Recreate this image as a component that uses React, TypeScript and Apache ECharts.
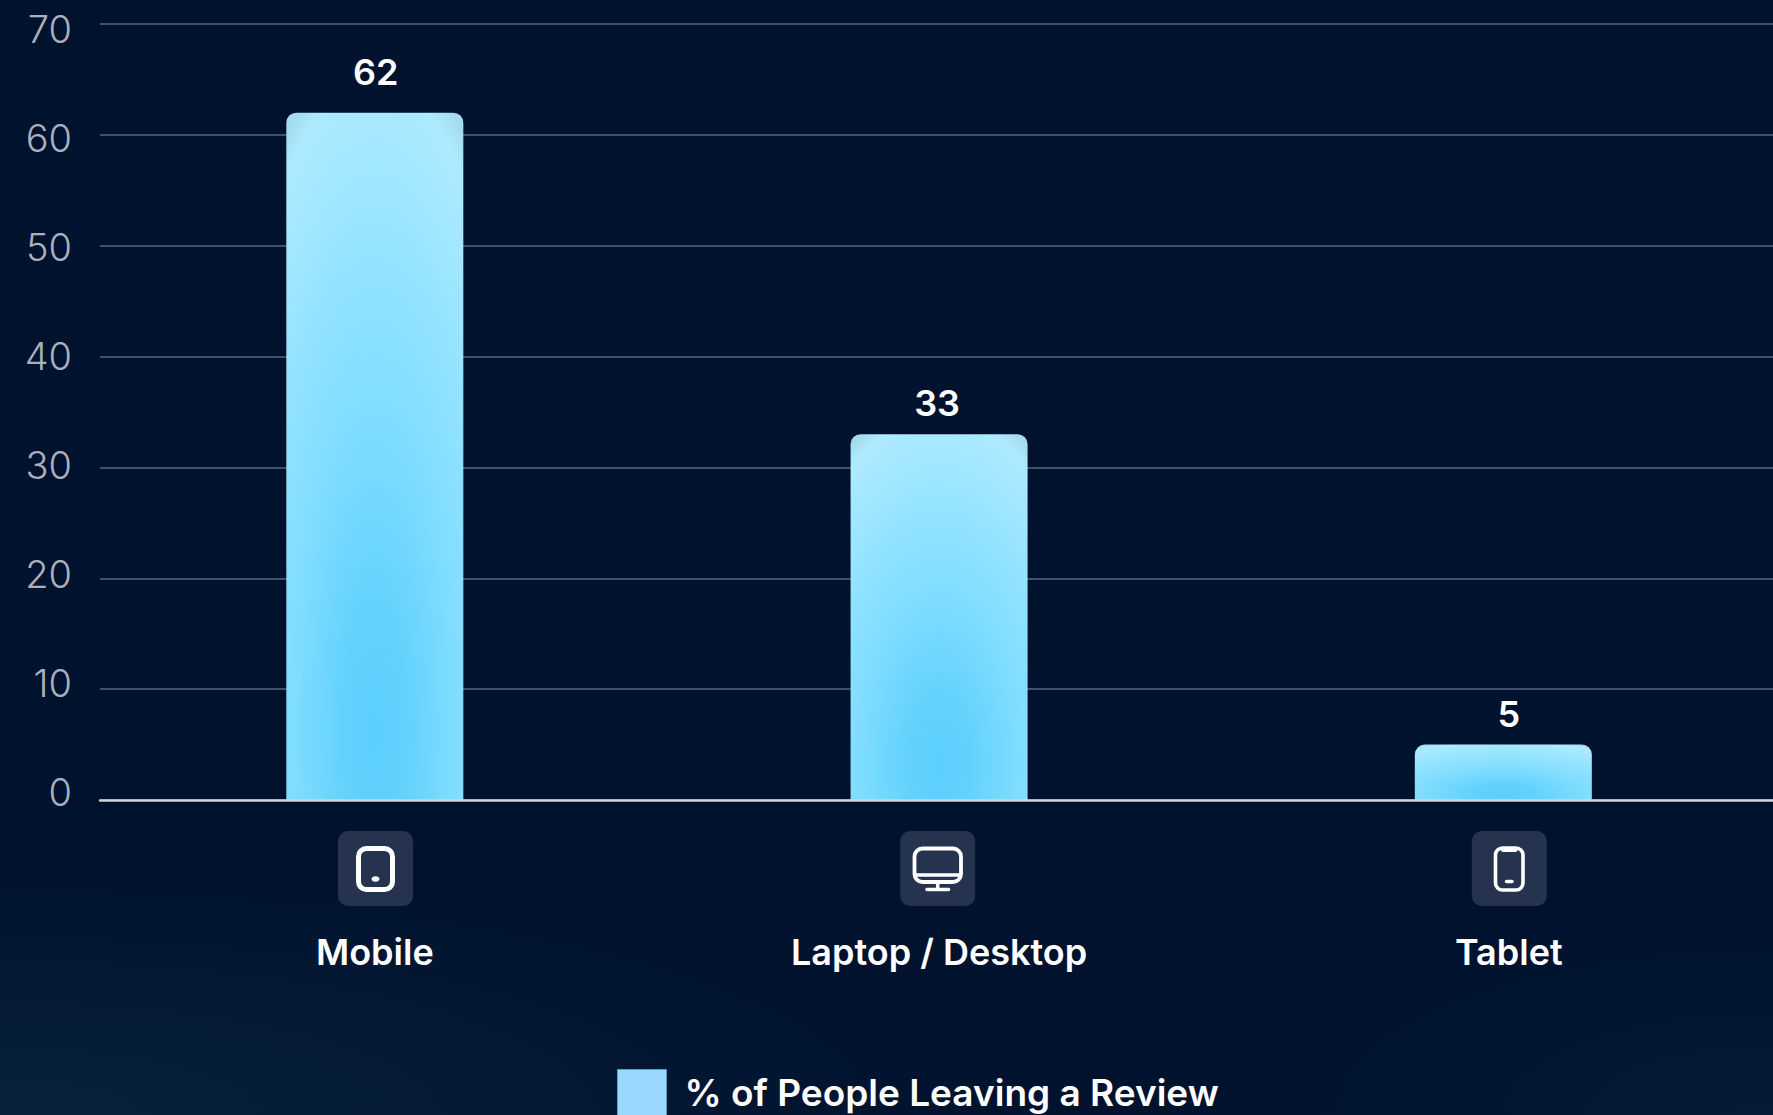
import React, { useEffect, useRef } from "react";
import * as echarts from "echarts";

const categories = ["Mobile", "Laptop / Desktop", "Tablet"];
const reviewShare = [62, 33, 5];
const yTicks = [0, 10, 20, 30, 40, 50, 60, 70];
const seriesName = "% of People Leaving a Review";

const FONT = "Inter, 'Noto Sans', sans-serif";
const WIDTH = 1773;
const HEIGHT = 1115;
const WHITE = "#ffffff";

// Small nudges for the value captions above the bars.
const captionOffsets = [
  [1, -13],
  [-2, -3.5],
  [5.5, -3],
];

const barFill = {
  type: "radial",
  x: 0.5,
  y: 0.9,
  r: 1,
  colorStops: [
    { offset: 0, color: "#5ccffd" },
    { offset: 0.18, color: "#62d2fd" },
    { offset: 0.44, color: "#7edcff" },
    { offset: 0.72, color: "#96e4ff" },
    { offset: 0.95, color: "#aeeaff" },
    { offset: 1.0, color: "#a4dcee" },
  ],
};

const line = (x1: number, y1: number, x2: number, y2: number, width = 4) => ({
  type: "line",
  shape: { x1, y1, x2, y2 },
  style: { stroke: WHITE, lineWidth: width, lineCap: "round" },
  z: 5,
});
const tile = (cx: number) => ({
  type: "rect",
  shape: { x: cx - 37.5, y: 831, width: 75, height: 75, r: 10 },
  style: { fill: "#25334f" },
  z: 4,
});
const outline = (x: number, y: number, width: number, height: number, r: number, lineWidth = 4) => ({
  type: "rect",
  shape: { x, y, width, height, r },
  style: { fill: "none", stroke: WHITE, lineWidth },
  z: 5,
});

// Device pictograms under each category.
const deviceIcons = [
  tile(375.5),
  outline(358.5, 848.5, 34, 41, 8, 5),
  { type: "ellipse", shape: { cx: 375.5, cy: 879, rx: 4, ry: 2.8 }, style: { fill: WHITE }, z: 5 },

  tile(937.7),
  outline(914.5, 848.5, 46.5, 33.5, 8, 3.8),
  line(915, 875, 960, 875, 3.5),
  line(937.7, 883, 937.7, 889, 3.5),
  line(927, 889.5, 948.5, 889.5, 3.5),

  tile(1509.3),
  outline(1495.5, 848, 27.5, 42, 7, 3.6),
  line(1503, 850, 1515.5, 850, 4),
  line(1506.5, 881.5, 1512, 881.5, 3.5),
];

// Faint teal glow rising from the lower corners of the backdrop.
const backdropGlow = [
  {
    type: "rect",
    shape: { x: 0, y: 865, width: WIDTH * 0.55, height: 250 },
    style: {
      fill: {
        type: "radial",
        x: 0,
        y: 1,
        r: 1,
        colorStops: [
          { offset: 0, color: "rgba(20,56,78,0.42)" },
          { offset: 1, color: "rgba(20,56,78,0)" },
        ],
      },
    },
    z: -10,
  },
  {
    type: "rect",
    shape: { x: WIDTH * 0.7, y: 915, width: WIDTH * 0.3, height: 200 },
    style: {
      fill: {
        type: "radial",
        x: 1,
        y: 1,
        r: 1,
        colorStops: [
          { offset: 0, color: "rgba(20,56,78,0.25)" },
          { offset: 1, color: "rgba(20,56,78,0)" },
        ],
      },
    },
    z: -10,
  },
];

const hiddenAxisParts = {
  axisLine: { show: false },
  axisTick: { show: false },
  axisLabel: { show: false },
  splitLine: { show: false },
};

function buildOption() {
  return {
    animation: false,
    backgroundColor: "#00122e",
    textStyle: { fontFamily: FONT },
    grid: [
      // frame: gridlines and baseline
      { left: 100, top: 24, width: WIDTH - 100, height: 776 },
      // bars and category names; the last band runs past the right edge
      { left: 92.7, top: 24, width: 1692.75, height: 776, outerBoundsMode: "none" },
      // tick numbers
      { left: 100, top: 29, width: WIDTH - 100, height: 763 },
    ],
    xAxis: [
      {
        gridIndex: 0,
        type: "value",
        min: 0,
        max: 1,
        ...hiddenAxisParts,
        axisLine: { show: true, onZero: false, lineStyle: { color: "#cfd4dc", width: 2.5 } },
        z: 3,
      },
      {
        gridIndex: 1,
        type: "category",
        data: categories,
        axisLine: { show: false },
        axisTick: { show: false },
        axisLabel: {
          margin: 134,
          interval: 0,
          color: WHITE,
          fontFamily: FONT,
          fontSize: 36,
          fontWeight: 600,
          formatter: (name: string) => (name === "Tablet" ? `{shifted|${name}}` : name),
          rich: {
            shifted: {
              color: WHITE,
              fontFamily: FONT,
              fontSize: 36,
              fontWeight: 600,
              padding: [0, 0, 0, 11],
            },
          },
        },
      },
      { gridIndex: 2, type: "value", min: 0, max: 1, ...hiddenAxisParts },
    ],
    yAxis: [
      {
        gridIndex: 0,
        type: "value",
        min: 0,
        max: 70,
        interval: 10,
        axisLine: { show: false },
        axisTick: { show: false },
        axisLabel: { show: false },
        splitLine: { show: true, lineStyle: { color: "#5a677d", width: 1.5 } },
      },
      { gridIndex: 1, type: "value", min: 0, max: 70, interval: 10, ...hiddenAxisParts },
      {
        gridIndex: 2,
        type: "value",
        min: yTicks[0],
        max: yTicks[yTicks.length - 1],
        interval: 10,
        axisLine: { show: false },
        axisTick: { show: false },
        splitLine: { show: false },
        axisLabel: {
          margin: 28,
          color: "#aab1bd",
          fontFamily: FONT,
          fontSize: 38,
          fontWeight: 300,
        },
      },
    ],
    legend: {
      show: true,
      left: 617,
      top: 1069,
      padding: 0,
      icon: "rect",
      itemWidth: 49,
      itemHeight: 46,
      itemStyle: { color: "#9bd8fd", borderColor: "#5a9bc4", borderWidth: 1 },
      textStyle: {
        color: WHITE,
        fontFamily: FONT,
        fontSize: 37,
        fontWeight: 600,
        padding: [0, 0, 0, 13],
      },
      data: [seriesName],
    },
    series: [
      {
        name: seriesName,
        type: "bar",
        xAxisIndex: 1,
        yAxisIndex: 1,
        barWidth: 177,
        z: 2,
        itemStyle: { color: barFill, borderRadius: [10, 10, 0, 0] },
        label: {
          show: true,
          position: "top",
          distance: 10,
          color: WHITE,
          fontFamily: FONT,
          fontSize: 36,
          fontWeight: 600,
        },
        data: reviewShare.map((value, i) => ({
          value,
          label: { offset: captionOffsets[i] },
        })),
      },
    ],
    graphic: { elements: [...backdropGlow, ...deviceIcons] },
  };
}

export default function App() {
  const ref = useRef<HTMLDivElement>(null);

  useEffect(() => {
    document.body.style.margin = "0";
    const chart = echarts.init(ref.current!, undefined, { renderer: "svg" });
    chart.setOption(buildOption() as any);
    return () => chart.dispose();
  }, []);

  return (
    <div
      ref={ref}
      style={{ position: "fixed", left: 0, top: 0, width: WIDTH, height: HEIGHT, overflow: "hidden" }}
    />
  );
}
